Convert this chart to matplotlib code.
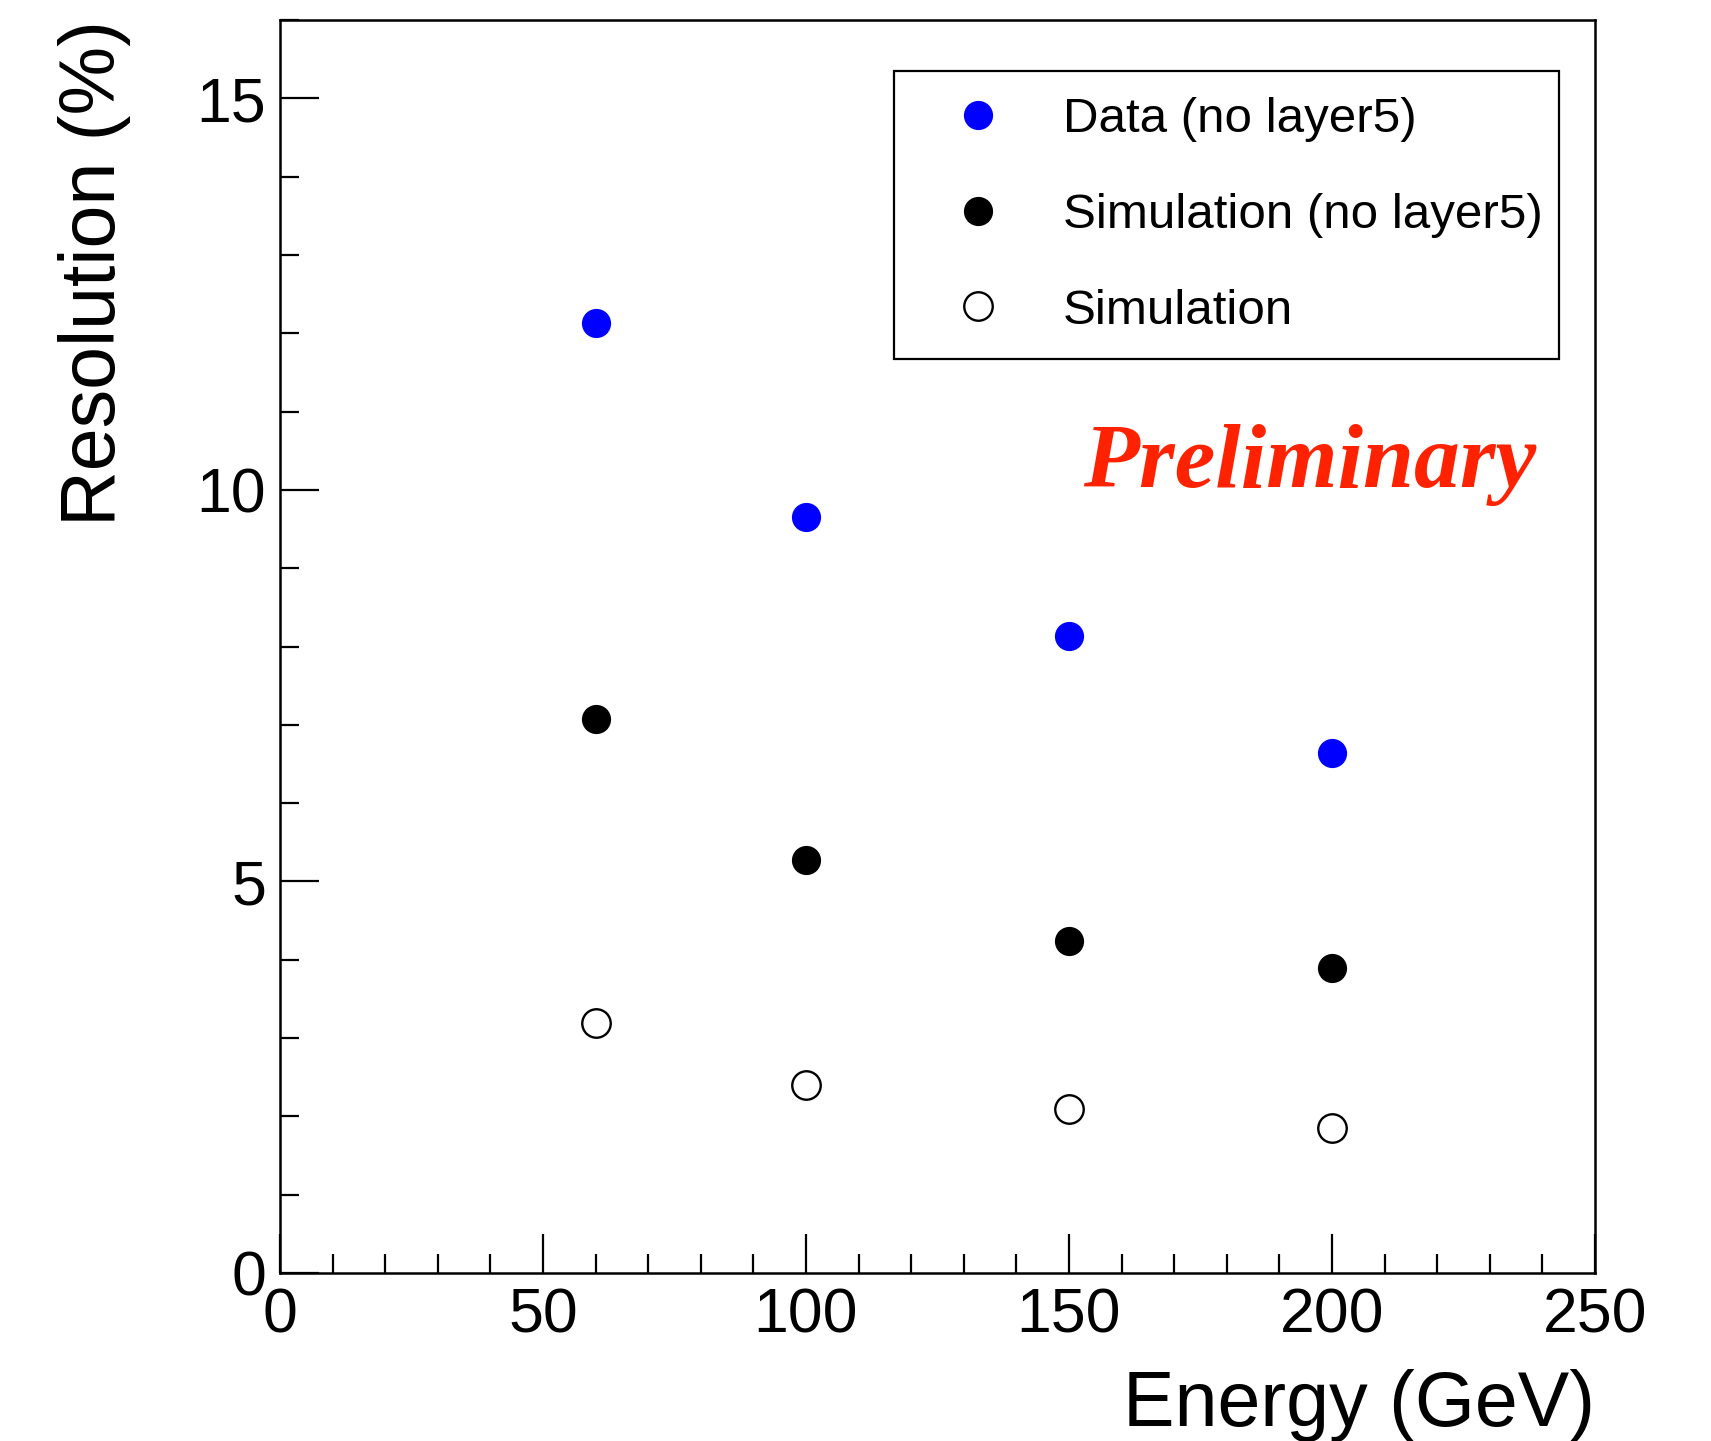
import matplotlib
matplotlib.use("Agg")
import matplotlib.pyplot as plt
from matplotlib.ticker import MultipleLocator

# Beam energies (GeV) and energy resolution (%)
energy = [60, 100, 150, 200]
data_no_layer5 = [12.13, 9.66, 8.14, 6.64]
sim_no_layer5 = [7.08, 5.28, 4.24, 3.89]
sim_full = [3.19, 2.40, 2.09, 1.85]

labels = ["Data (no layer5)", "Simulation (no layer5)", "Simulation"]

plt.rcParams["font.family"] = ["Liberation Sans", "DejaVu Sans"]

fig = plt.figure(figsize=(17.11, 14.41), dpi=100)
ax = fig.add_axes([0.1636, 0.1166, 0.7686, 0.8695])

ms = 20
ax.plot(energy, data_no_layer5, "o", ms=ms, color="#0000ff", mec="#0000ff",
        linestyle="none", label=labels[0])
ax.plot(energy, sim_no_layer5, "o", ms=ms, color="black", mec="black",
        linestyle="none", label=labels[1])
ax.plot(energy, sim_full, "o", ms=ms + 0.5, mfc="white", mec="black", mew=1.7,
        linestyle="none", label=labels[2])

ax.set_xlim(0, 250)
ax.set_ylim(0, 16)

ax.xaxis.set_major_locator(MultipleLocator(50))
ax.xaxis.set_minor_locator(MultipleLocator(10))
ax.yaxis.set_major_locator(MultipleLocator(5))
ax.yaxis.set_minor_locator(MultipleLocator(1))

ax.tick_params(axis="both", which="both", direction="in", top=False, right=False)
ax.tick_params(axis="both", which="major", length=28, width=1.6, labelsize=45, pad=10)
ax.tick_params(axis="both", which="minor", length=14, width=1.6)

for sp in ax.spines.values():
    sp.set_linewidth(1.8)

ax.set_xlabel("Energy (GeV)", fontsize=55.5, ha="right", va="center")
ax.xaxis.set_label_coords(1.0, -0.106)
ax.set_ylabel("Resolution (%)", fontsize=55.5)
ax.yaxis.label.set_rotation_mode("default")
ax.yaxis.label.set_ha("center")
ax.yaxis.label.set_va("top")
ax.yaxis.set_label_coords(-0.1407, 1.0)

leg = ax.legend(loc="upper left", bbox_to_anchor=(0.467, 0.733, 0.506, 0.226),
                mode="expand", fontsize=35.5, frameon=True, fancybox=False,
                edgecolor="black", borderpad=0.52, handlelength=2.37,
                handletextpad=0.54, labelspacing=1.03, borderaxespad=0.0,
                numpoints=1)
leg.get_frame().set_linewidth(1.6)
leg.get_frame().set_alpha(1)

ax.text(0.611, 0.6275, "Preliminary", transform=ax.transAxes, fontsize=66,
        color="#ff2200", fontweight="bold", fontstyle="italic",
        family=["Liberation Serif", "DejaVu Serif"], ha="left", va="baseline")

fig.savefig("out.png", dpi=100)
